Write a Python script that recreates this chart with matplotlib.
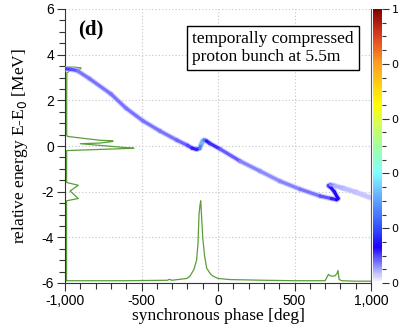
import numpy as np
import matplotlib
matplotlib.use("Agg")
import matplotlib.pyplot as plt
from matplotlib.colors import LinearSegmentedColormap
from matplotlib.collections import LineCollection
from matplotlib.ticker import FuncFormatter, MultipleLocator

# beam in longitudinal phase space (phase [deg], energy [MeV], colour level)
beam_phase = [-1000, -960, -920, -840, -700, -600, -490, -380, -270, -200, -170, -140,
              -120, -108, -100, -90, -75, -55, 13, 144, 275, 405, 536, 667, 740, 775,
              785, 760, 735, 722, 735, 760, 820, 900, 1000]
beam_energy = [3.38, 3.36, 3.3, 2.95, 2.28, 1.65, 1.1, 0.66, 0.26, 0.03, -0.09, -0.15,
               -0.1, 0.1, 0.22, 0.26, 0.22, 0.12, -0.13, -0.66, -1.1, -1.54, -1.89, -2.19,
               -2.3, -2.35, -2.3, -2.0, -1.8, -1.74, -1.7, -1.74, -1.85, -2.02, -2.27]
beam_level = [0.11, 0.1, 0.08, 0.075, 0.075, 0.075, 0.075, 0.075, 0.075, 0.09, 0.11, 0.13,
              0.2, 0.32, 0.34, 0.3, 0.18, 0.12, 0.1, 0.075, 0.065, 0.065, 0.07, 0.08, 0.1, 0.13,
              0.14, 0.13, 0.12, 0.13, 0.08, 0.05, 0.04, 0.035, 0.03]

# projection on the phase axis
xproj_phase = [-1000, -600, -330, -320, -300, -203, -183, -157, -140, -131, -124, -118,
               -113, -108, -100, -88, -74, -50, -32, 0, 78, 300, 500, 700, 712, 722, 732,
               742, 752, 765, 778, 784, 792, 810, 895, 1000]
xproj_energy = [-5.9, -5.9, -5.88, -5.84, -5.88, -5.8, -5.7, -5.4, -5.0, -4.3, -3.0, -2.6,
                -2.4, -3.0, -4.0, -4.8, -5.35, -5.6, -5.7, -5.8, -5.85, -5.88, -5.9, -5.9,
                -5.75, -5.62, -5.68, -5.7, -5.7, -5.68, -5.58, -5.45, -5.85, -5.9, -5.92, -5.92]

# projection on the energy axis
yproj_phase = [-1000, -990, -935, -895, -902, -967, -988, -989, -989, -985, -771, -690,
               -686, -771, -900, -549, -600, -989, -990, -988, -913, -967, -913, -990,
               -990, -990]
yproj_energy = [3.48, 3.46, 3.45, 3.42, 3.36, 3.3, 3.2, 2.0, 0.5, 0.42, 0.25, 0.23,
                0.2, 0.13, 0.1, -0.1, -0.11, -0.2, -1.5, -1.6, -1.72, -1.97, -2.3, -2.4,
                -4.0, -5.9]

cmap = LinearSegmentedColormap.from_list("dens", [
    (0.0, "#ffffff"), (0.06, "#9090ff"), (0.13, "#2000ff"), (0.2, "#3050ff"),
    (0.3, "#60a0ff"), (0.4, "#80ffff"), (0.5, "#a0ffa0"), (0.6, "#e0ff40"),
    (0.65, "#ffff00"), (0.8, "#ffa020"), (0.9, "#e04020"), (1.0, "#800000")])

fig = plt.figure(figsize=(3.99, 3.30), dpi=100)
ax = fig.add_axes([65 / 399, 1 - 283 / 330, 306 / 399, 274 / 330])
cax = fig.add_axes([373 / 399, 1 - 283 / 330, 9 / 399, 274 / 330])

green = "#5a9e3a"
ax.plot(xproj_phase, xproj_energy, color=green, lw=0.9, zorder=2)
ax.plot(yproj_phase, yproj_energy, color=green, lw=0.9, zorder=2)

pts = np.column_stack([beam_phase, beam_energy])
segs = np.stack([pts[:-1], pts[1:]], axis=1)
lev = (np.array(beam_level[:-1]) + np.array(beam_level[1:])) / 2
# soft halo then core
halo = LineCollection(segs, colors="#b8b8ff", linewidths=4, alpha=0.6,
                      capstyle="round", joinstyle="round", zorder=3)
ax.add_collection(halo)
lc = LineCollection(segs, cmap=cmap, norm=plt.Normalize(0, 1), linewidths=2.3,
                    capstyle="round", joinstyle="round", zorder=3)
lc.set_array(lev)
ax.add_collection(lc)

ax.set_xlim(-1000, 1000)
ax.set_ylim(-6, 6)
ax.xaxis.set_major_locator(MultipleLocator(500))
ax.xaxis.set_minor_locator(MultipleLocator(100))
ax.yaxis.set_major_locator(MultipleLocator(2))
ax.yaxis.set_minor_locator(MultipleLocator(0.5))
fmt = FuncFormatter(lambda v, p: f"{int(round(v)):,}")
ax.xaxis.set_major_formatter(fmt)
ax.yaxis.set_major_formatter(fmt)
ax.tick_params(which="both", direction="out", color="#333333", width=0.8,
               labelsize=10, pad=2)
ax.tick_params(which="major", length=6)
ax.tick_params(which="minor", length=4)
for lab in ax.get_xticklabels() + ax.get_yticklabels():
    lab.set_family("Liberation Sans")
ax.grid(True, which="major", ls=(0, (1, 2)), color="#c4c4c4", lw=0.8)
ax.spines["top"].set_visible(False)
ax.spines["right"].set_color("#555555")
ax.spines["left"].set_color("#333333")
ax.spines["bottom"].set_color("#333333")

ax.set_xlabel("synchronous phase [deg]", family="Liberation Serif", fontsize=12.5, labelpad=0)
ax.set_ylabel("relative energy E-E$_0$ [MeV]", family="Liberation Serif", fontsize=12.5,
              labelpad=8)

ax.text(-915, 5.1, "(d)", family="Liberation Serif", fontweight="bold", fontsize=15,
        va="center", ha="left")
ax.text(-170, 4.3, "temporally compressed\nproton bunch at 5.5m", family="Liberation Serif",
        fontsize=12.5, va="center", ha="left", linespacing=1.15,
        bbox=dict(boxstyle="square,pad=0.3", fc="white", ec="black", lw=1), zorder=5)

cb = fig.colorbar(plt.cm.ScalarMappable(norm=plt.Normalize(0, 1), cmap=cmap), cax=cax)
cb.outline.set_visible(False)
cb.set_ticks([0, 0.2, 0.4, 0.6, 0.8, 1.0])
cb.ax.yaxis.set_minor_locator(MultipleLocator(0.05))
cb.ax.yaxis.set_major_formatter(FuncFormatter(lambda v, p: f"{v:g}"))
cb.ax.tick_params(which="both", direction="out", color="#333333", width=0.8,
                  labelsize=8, pad=2)
cb.ax.tick_params(which="major", length=5)
cb.ax.tick_params(which="minor", length=3)

fig.savefig("out.png", dpi=100)
